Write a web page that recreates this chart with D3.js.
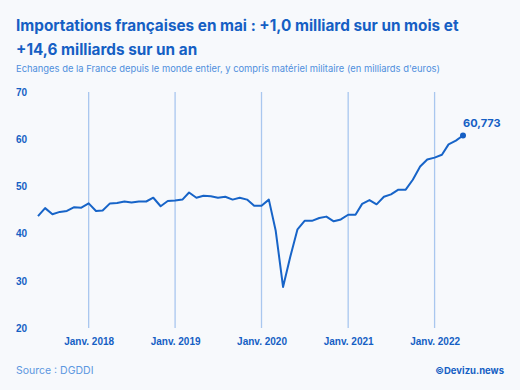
<!DOCTYPE html>
<html>
<head>
<meta charset="utf-8">
<script src="https://cdn.jsdelivr.net/npm/d3@7"></script>
<style>
  body { margin: 0; background: #f7f9fc; }
  svg { display: block; font-family: Inter, "Noto Sans", sans-serif; }
</style>
</head>
<body>
<div id="chart"></div>
<script>
// monthly imports, Jun 2017 -> May 2022 (milliards d'euros)
const startMonth = new Date(2017, 5, 1)
const imports = [
  43.7, 45.4, 44.1, 44.6, 44.8, 45.6, 45.5,
  46.4, 44.8, 44.9, 46.4, 46.5, 46.8, 46.6, 46.8, 46.8, 47.6, 45.8, 46.9,
  47.0, 47.2, 48.7, 47.6, 48.0, 47.9, 47.6, 47.8, 47.2, 47.6, 47.2, 45.9,
  45.9, 47.2, 40.6, 28.7, 35.0, 40.9, 42.7, 42.7, 43.3, 43.6, 42.6, 43.0,
  44.0, 44.0, 46.3, 47.1, 46.2, 47.8, 48.3, 49.3, 49.3, 51.4, 54.2, 55.7,
  56.1, 56.7, 58.9, 59.7, 60.773
]
const yTicks = [20, 30, 40, 50, 60, 70]
const yearTicks = [2018, 2019, 2020, 2021, 2022]
const lastLabel = '60,773'

const data = imports.map((v, i) => ({
  date: d3.timeMonth.offset(startMonth, i),
  value: v
}))

const W = 520
const H = 390
const margin = { t: 92, r: 57, b: 62, l: 38 }
const innerWidth = W - margin.l - margin.r
const innerHeight = H - margin.t - margin.b

const blue = '#155fc4'
const font = 'Inter, "Noto Sans", sans-serif'

const scaleX = d3.scaleTime()
  .domain([data[0].date, data[data.length - 1].date])
  .range([0, innerWidth])
const scaleY = d3.scaleLinear().domain([20, 70]).range([innerHeight, 0])

const svg = d3.select('#chart')
  .append('svg')
  .attr('width', W)
  .attr('height', H)

svg.append('rect').attr('width', W).attr('height', H).attr('fill', '#f7f9fc')

svg.append('text')
  .attr('x', 16).attr('y', 31)
  .attr('fill', blue)
  .attr('font-size', 15.3)
  .attr('font-weight', 700)
  .text('Importations françaises en mai : +1,0 milliard sur un mois et')
svg.append('text')
  .attr('x', 16).attr('y', 55)
  .attr('fill', blue)
  .attr('font-size', 15.3)
  .attr('font-weight', 700)
  .text('+14,6 milliards sur un an')
svg.append('text')
  .attr('x', 16).attr('y', 72)
  .attr('fill', '#4f8fdd')
  .attr('font-size', 9.4)
  .text("Echanges de la France depuis le monde entier, y compris matériel militaire (en milliards d'euros)")

const plot = svg.append('g')
  .attr('class', 'plot')
  .attr('transform', `translate(${margin.l}, ${margin.t})`)

// vertical gridlines at january
const janDates = yearTicks.map(y => new Date(y, 0, 1))
plot.append('g')
  .selectAll('line')
  .data(janDates)
  .join('line')
  .attr('x1', d => scaleX(d))
  .attr('x2', d => scaleX(d))
  .attr('y1', scaleY(70))
  .attr('y2', scaleY(20))
  .attr('stroke', '#a9c7ef')
  .attr('stroke-width', 1.3)

const axisX = d3.axisBottom(scaleX)
  .tickValues(janDates)
  .tickSize(0)
  .tickPadding(10)
  .tickFormat(d => 'Janv. ' + d.getFullYear())

plot.append('g')
  .attr('class', 'axis axis-x')
  .attr('transform', `translate(0, ${innerHeight})`)
  .attr('font-family', font)
  .call(axisX)
  .call(g => g.select('.domain').remove())
  .selectAll('text')
  .attr('fill', blue)
  .attr('font-size', 10)
  .attr('font-weight', 700)

const axisY = d3.axisLeft(scaleY)
  .tickValues(yTicks)
  .tickSize(0)
  .tickPadding(0)

plot.append('g')
  .attr('class', 'axis axis-y')
  .attr('font-family', font)
  .call(axisY)
  .call(g => g.select('.domain').remove())
  .selectAll('text')
  .attr('x', 16 - margin.l)
  .attr('text-anchor', 'start')
  .attr('fill', blue)
  .attr('font-size', 10)
  .attr('font-weight', 700)

const line = d3.line()
  .x(d => scaleX(d.date))
  .y(d => scaleY(d.value))

plot.append('path')
  .datum(data)
  .attr('fill', 'none')
  .attr('stroke', '#1764c8')
  .attr('stroke-width', 2)
  .attr('stroke-linejoin', 'round')
  .attr('d', line)

const last = data[data.length - 1]
plot.append('circle')
  .attr('cx', scaleX(last.date))
  .attr('cy', scaleY(last.value))
  .attr('r', 3)
  .attr('fill', blue)

plot.append('text')
  .attr('x', scaleX(last.date))
  .attr('y', scaleY(last.value) - 9)
  .attr('fill', blue)
  .attr('font-size', 11)
  .attr('font-weight', 700)
  .text(lastLabel)

svg.append('text')
  .attr('x', 16).attr('y', 374)
  .attr('fill', '#5c97e0')
  .attr('font-size', 10.5)
  .text('Source : DGDDI')
svg.append('text')
  .attr('x', 504).attr('y', 374)
  .attr('text-anchor', 'end')
  .attr('fill', blue)
  .attr('font-size', 9.5)
  .attr('font-weight', 700)
  .text('©Devizu.news')
</script>
</body>
</html>
